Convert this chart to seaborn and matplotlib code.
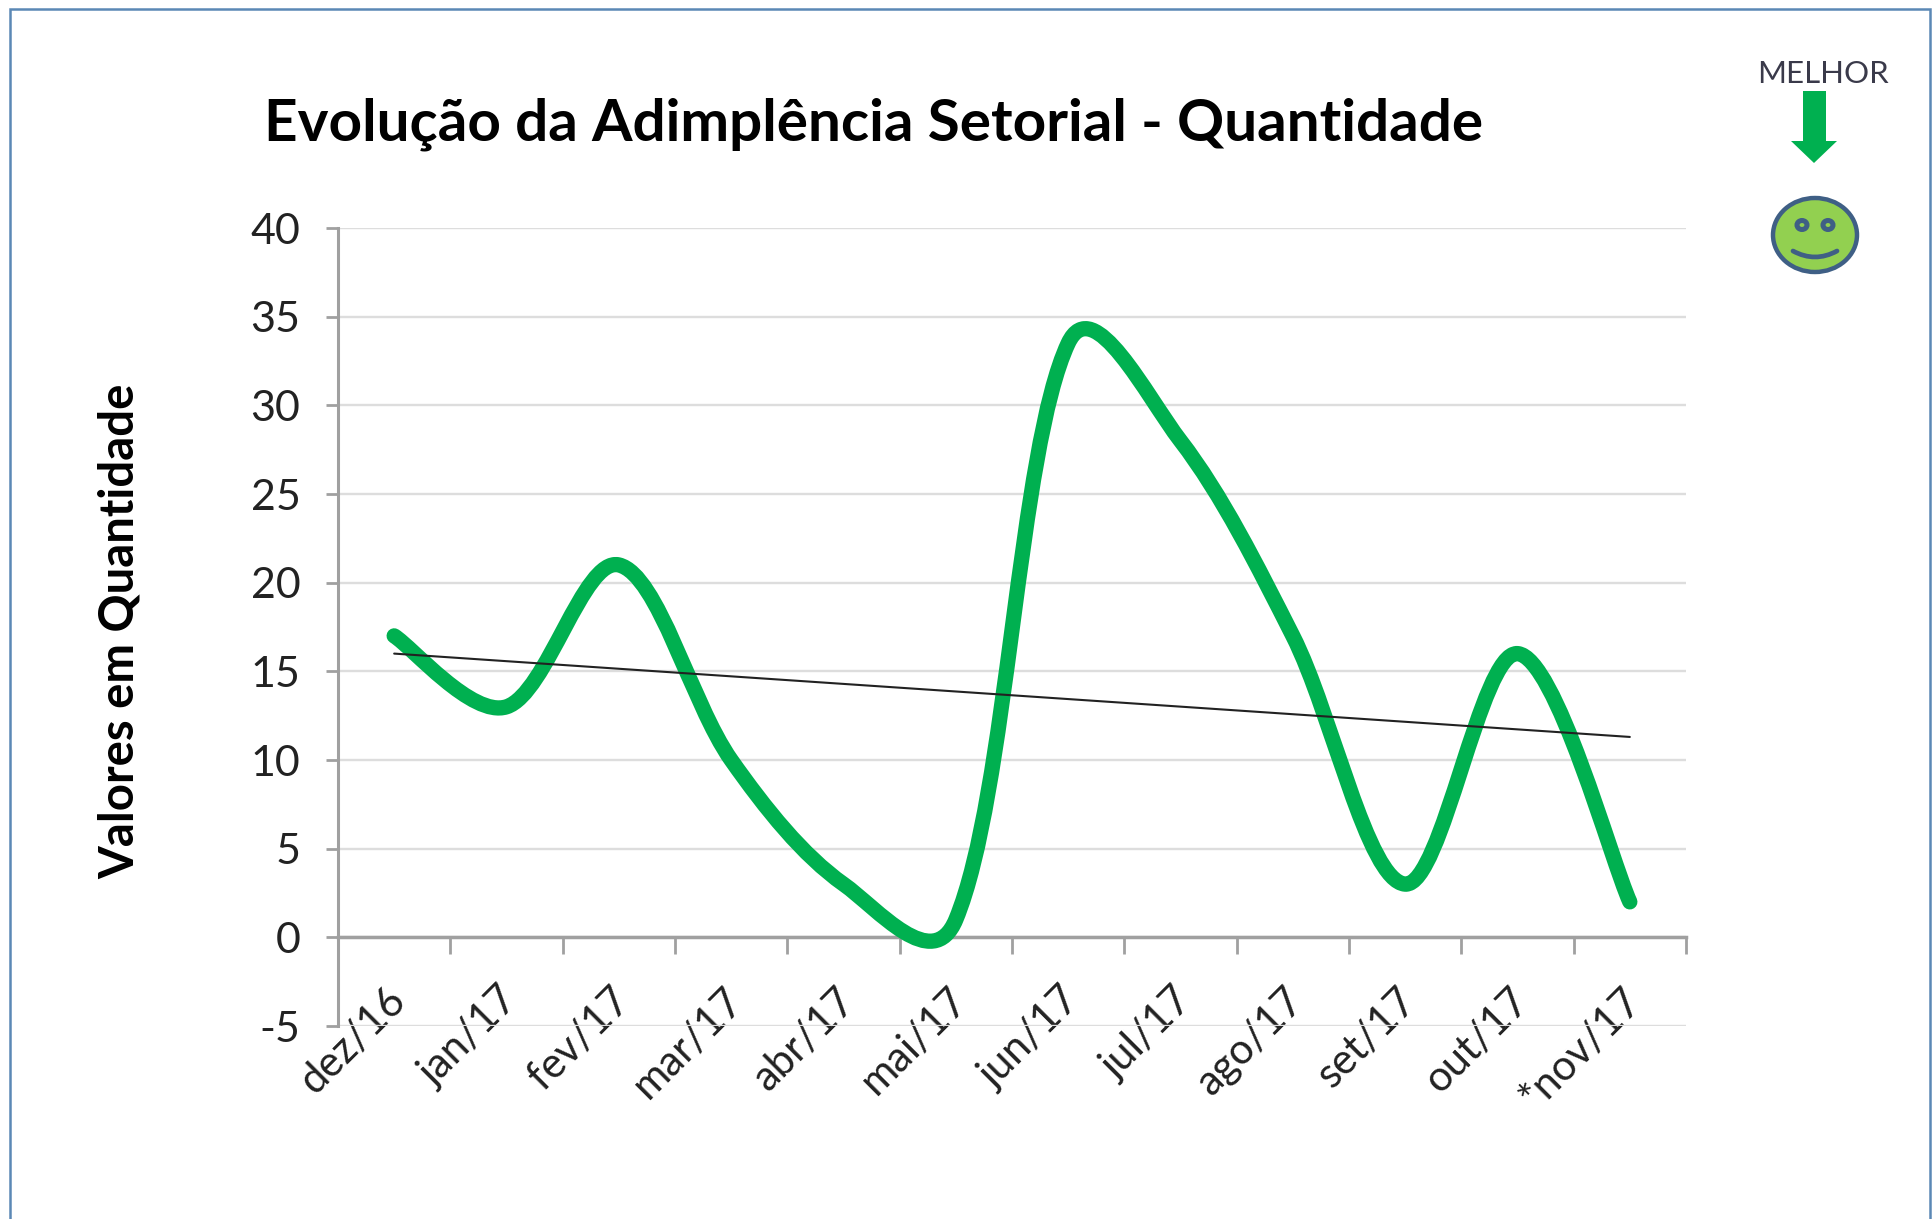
import matplotlib
matplotlib.use("Agg")
import matplotlib.pyplot as plt
import matplotlib.patches as mpatches
from matplotlib.path import Path
from matplotlib.transforms import ScaledTranslation
import numpy as np
import pandas as pd
import seaborn as sns

months = ['dez/16', 'jan/17', 'fev/17', 'mar/17', 'abr/17', 'mai/17',
          'jun/17', 'jul/17', 'ago/17', 'set/17', 'out/17', '*nov/17']
adimplencia = [17, 13, 21, 10, 3, 1, 33.5, 28, 17, 3, 16, 2]
trend_months = ['dez/16', '*nov/17']
trend_values = [16.0, 11.3]
y_ticks = [-5, 0, 5, 10, 15, 20, 25, 30, 35, 40]

W, H = 1933, 1219
GREEN = '#00B050'
X_LEFT, X_RIGHT, Y_TOP, Y_BOTTOM = 338, 1686, 228, 1026

sns.set_theme(style='white')
plt.rcParams['font.family'] = ['Lato', 'DejaVu Sans']

fig = plt.figure(figsize=(W / 100, H / 100), dpi=100, facecolor='white')
ax = fig.add_axes([X_LEFT / W, 1 - Y_BOTTOM / H, (X_RIGHT - X_LEFT) / W, (Y_BOTTOM - Y_TOP) / H])


def smooth_path(xs, ys):
    # bezier through the points like the excel "smoothed line":
    # handle length follows the sqrt of the segment length on screen
    xs = np.asarray(xs, dtype=float)
    ys = np.asarray(ys, dtype=float)
    sx = (X_RIGHT - X_LEFT) / len(xs)
    sy = (Y_BOTTOM - Y_TOP) / 45
    seg = np.sqrt(np.hypot(np.diff(xs) * sx, np.diff(ys) * sy))
    n = len(xs)
    h_in = np.zeros((n, 2))
    h_out = np.zeros((n, 2))
    for i in range(n):
        a = max(i - 1, 0)
        b = min(i + 1, n - 1)
        t = np.array([xs[b] - xs[a], ys[b] - ys[a]])
        d_prev = seg[i - 1] if i > 0 else seg[0]
        d_next = seg[i] if i < n - 1 else seg[-1]
        h_in[i] = t * d_prev / (d_prev + d_next) / 3
        h_out[i] = t * d_next / (d_prev + d_next) / 3
    verts = [(xs[0], ys[0])]
    codes = [Path.MOVETO]
    for i in range(n - 1):
        verts += [(xs[i] + h_out[i][0], ys[i] + h_out[i][1]),
                  (xs[i + 1] - h_in[i + 1][0], ys[i + 1] - h_in[i + 1][1]),
                  (xs[i + 1], ys[i + 1])]
        codes += [Path.CURVE4] * 3
    return Path(verts, codes)


df_trend = pd.DataFrame({'x': [months.index(m) for m in trend_months], 'y': trend_values})

curve = mpatches.PathPatch(smooth_path(range(len(months)), adimplencia), fill=False,
                           edgecolor=GREEN, linewidth=11, capstyle='round', joinstyle='round', zorder=3)
ax.add_patch(curve)
sns.lineplot(data=df_trend, x='x', y='y', color='#222222', linewidth=1.5, ax=ax, zorder=4)

# set_position resets the ticks, so it has to come before the tick setup
for side in ['top', 'right']:
    ax.spines[side].set_visible(False)
ax.spines['left'].set_color('#A0A0A0')
ax.spines['left'].set_linewidth(2.2)
ax.spines['bottom'].set_position(('data', 0))
ax.spines['bottom'].set_color('#A0A0A0')
ax.spines['bottom'].set_linewidth(2.5)

ax.set_xlim(-0.5, len(months) - 0.5)
ax.set_ylim(-5, 40)
ax.set_xlabel('')
ax.set_ylabel('')

ax.set_yticks(y_ticks)
ax.set_yticklabels([str(v) for v in y_ticks])
ax.tick_params(axis='y', which='major', length=9, width=2, color='#A0A0A0',
               labelsize=31, labelcolor='#222222', pad=18, left=True)

ax.set_xticks(np.arange(-0.5, len(months)))
ax.set_xticklabels([])
ax.set_xticks(np.arange(len(months)), minor=True)
ax.set_xticklabels(months, minor=True)
ax.tick_params(axis='x', which='major', length=12, width=2, color='#A0A0A0', bottom=True)
ax.tick_params(axis='x', which='minor', length=0, labelsize=30, labelcolor='#222222', pad=41)
nudge = ScaledTranslation(5 / 100, 0, fig.dpi_scale_trans)
for lab in ax.get_xticklabels(minor=True):
    lab.set_rotation(45)
    lab.set_rotation_mode('anchor')
    lab.set_ha('right')
    lab.set_va('center')
    lab.set_transform(lab.get_transform() + nudge)

ax.grid(False)
ax.yaxis.grid(True, color='#DDDDDD', linewidth=1.7)
ax.set_axisbelow(True)

fig.text(874 / W, 1 - 124 / H, 'Evolução da Adimplência Setorial - Quantidade',
         fontsize=42, fontweight='bold', color='black', ha='center', va='center')
fig.text(120 / W, 1 - 631 / H, 'Valores em Quantidade', fontsize=34, fontweight='bold',
         color='black', rotation=90, ha='center', va='center')
fig.text(1823 / W, 1 - 74 / H, 'MELHOR', fontsize=22.5, color='#3A3A4A', ha='center', va='center')


# decorations below are placed in pixels of the figure
def px(x, y):
    return x / W, 1 - y / H


frame = mpatches.Rectangle(px(10, 1260), (1930 - 10) / W, (1260 - 9) / H, transform=fig.transFigure,
                           fill=False, edgecolor='#5B88B5', linewidth=1.8)
fig.add_artist(frame)

arrow_pts = [(1803, 91), (1826, 91), (1826, 141), (1837, 141), (1814, 163), (1791, 141), (1803, 141)]
fig.add_artist(mpatches.Polygon([px(*p) for p in arrow_pts], closed=True, facecolor=GREEN,
                                edgecolor='none', transform=fig.transFigure))

face = mpatches.Ellipse(px(1815, 235), 84 / W, 74 / H, facecolor='#92D050', edgecolor='#3F5F85',
                        linewidth=3.2, transform=fig.transFigure)
fig.add_artist(face)
for ex in [1802, 1828]:
    fig.add_artist(mpatches.Ellipse(px(ex, 225), 10 / W, 9 / H, facecolor='#92D050', edgecolor='#3F5F85',
                                    linewidth=3.6, transform=fig.transFigure))
mouth = Path([px(1793, 251), px(1815, 263), px(1837, 251)], [Path.MOVETO, Path.CURVE3, Path.CURVE3])
fig.add_artist(mpatches.PathPatch(mouth, fill=False, edgecolor='#3F5F85', linewidth=3.4,
                                  capstyle='round', transform=fig.transFigure))

fig.savefig('out.png', dpi=100, facecolor='white')
plt.close(fig)
